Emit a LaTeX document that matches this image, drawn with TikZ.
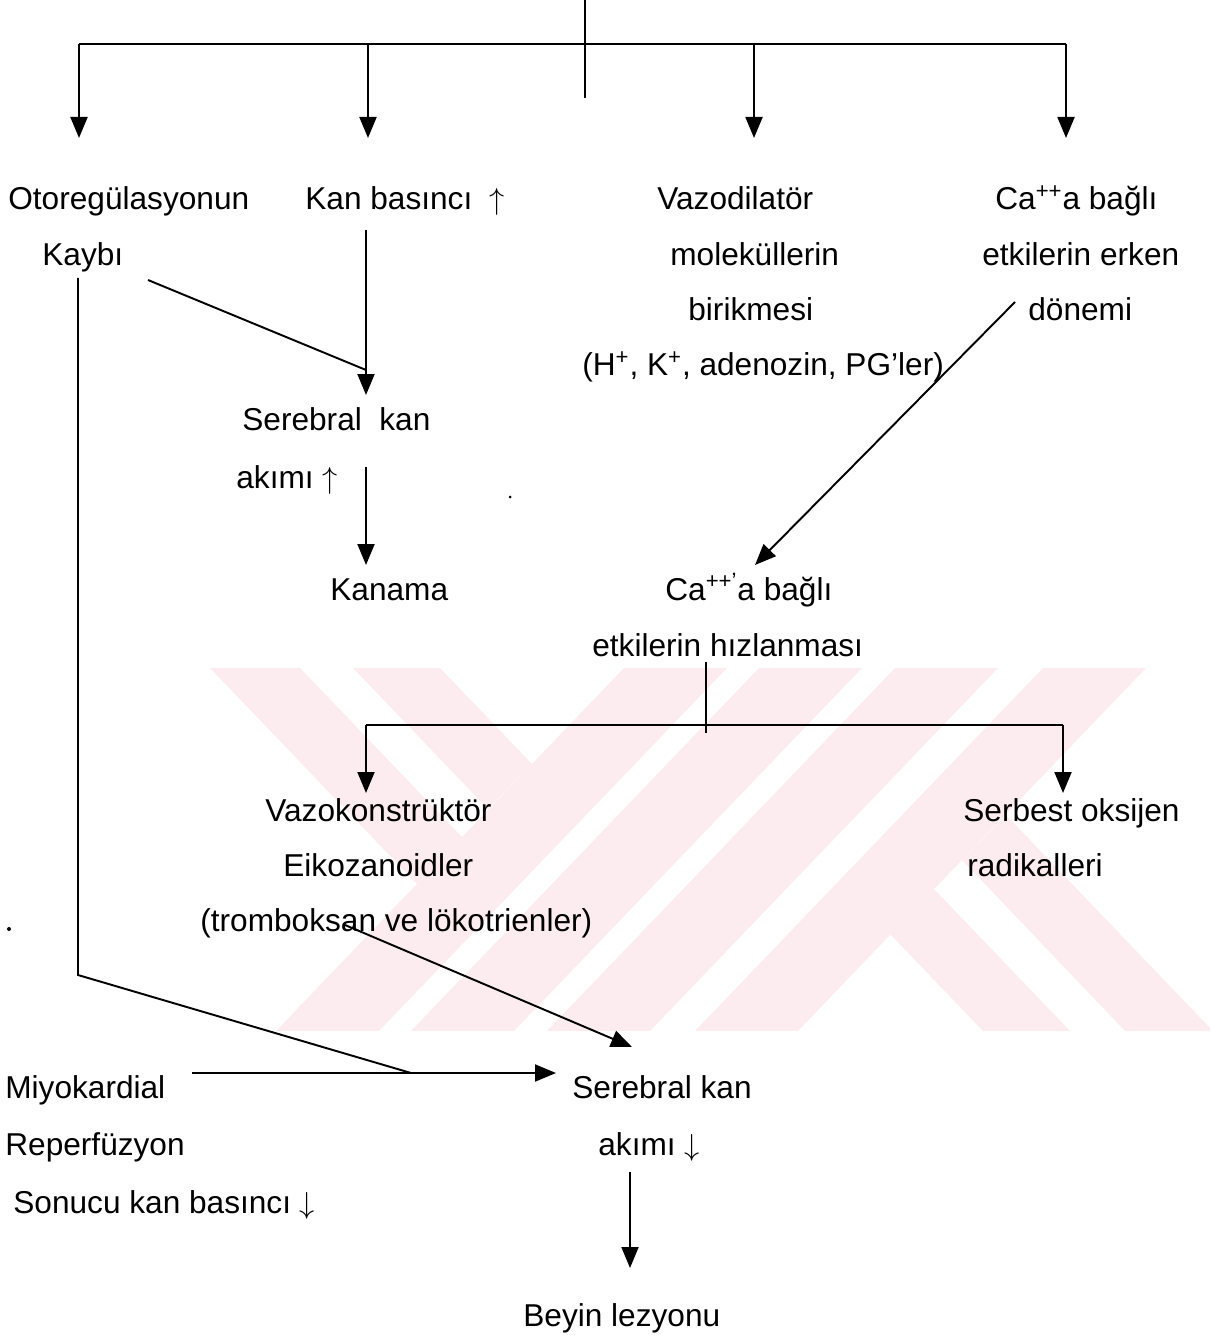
\documentclass[tikz,border=0pt]{standalone}
\usepackage{fontspec}
\setmainfont{Liberation Sans}
\usetikzlibrary{arrows.meta}
\definecolor{wmpink}{RGB}{253,236,239}

\begin{document}
\begin{tikzpicture}[x=0.02cm, y=-0.02cm]
\tikzset{ >={Triangle[length=0.42cm,width=0.34cm]}, ln/.style={line width=1.1pt}, txt/.style={inner sep=0pt, anchor=base west, font=\fontsize{18}{21}\selectfont} }

\useasboundingbox (0,0) rectangle (1210,1337);
%\draw [lightgray, dashed](0,0) grid[step=100] (1210,1337);

% watermark
\fill [wmpink] (210,668) -- (300,668) -- (462,837) -- (417,884) -- cycle;
\fill [wmpink] (353,668) -- (440,668) -- (532,764) -- (488,809) -- cycle;
\fill [wmpink] (624,668) -- (727,668) -- (379,1031) -- (276,1031) -- cycle;
\fill [wmpink] (759,668) -- (862,668) -- (514,1031) -- (411,1031) -- cycle;
\fill [wmpink] (895,668) -- (998,668) -- (650,1031) -- (547,1031) -- cycle;
\fill [wmpink] (1043,668) -- (1146,668) -- (798,1031) -- (695,1031) -- cycle;
\fill [wmpink] (890,934) -- (934,889) -- (1070,1031) -- (983,1031) -- cycle;
\fill [wmpink] (962,860) -- (1006,815) -- (1210,1028) -- (1210,1031) -- (1125,1031) -- cycle;

\node [txt] (oto)   at (8,210)    {Otoregülasyonun};
\node [txt] (kayb)  at (42,266)   {Kaybı};
\node [txt] (kanb)  at (305,210)  {Kan basıncı \ $\uparrow$};
\node [txt] (vaz1)  at (657,210)  {Vazodilatör};
\node [txt] (vaz2)  at (670,266)  {moleküllerin};
\node [txt] (vaz3)  at (688,321)  {birikmesi};
\node [txt] (vaz4)  at (582,376)  {(H\textsuperscript{+}, K\textsuperscript{+}, adenozin, PG’ler)};
\node [txt] (caa1)  at (995,210)  {Ca\textsuperscript{++}a bağlı};
\node [txt] (caa2)  at (982,266)  {etkilerin erken};
\node [txt] (caa3)  at (1028,321) {dönemi};
\node [txt] (sku1)  at (242,431)  {Serebral\ \ kan};
\node [txt] (sku2)  at (236,488)  {akımı $\uparrow$};
\node [txt] (kanm)  at (330,600)  {Kanama};
\node [txt] (cah1)  at (665,600)  {Ca\textsuperscript{++’}a bağlı};
\node [txt] (cah2)  at (592,656)  {etkilerin hızlanması};
\node [txt] (vko1)  at (265,821)  {Vazokonstrüktör};
\node [txt] (vko2)  at (283,876)  {Eikozanoidler};
\node [txt] (vko3)  at (200,931)  {(tromboksan ve lökotrienler)};
\node [txt] (sor1)  at (963,821)  {Serbest oksijen};
\node [txt] (sor2)  at (967,876)  {radikalleri};
\node [txt] (miy1)  at (5,1098)   {Miyokardial};
\node [txt] (miy2)  at (5,1155)   {Reperfüzyon};
\node [txt] (miy3)  at (13,1213)  {Sonucu kan basıncı $\downarrow$};
\node [txt] (skd1)  at (572,1098) {Serebral kan};
\node [txt] (skd2)  at (598,1155) {akımı $\downarrow$};
\node [txt] (beyn)  at (523,1326) {Beyin lezyonu};

% top branching
\coordinate (src)  at (585,0);
\coordinate (srce) at (585,98);
\coordinate (busL) at (79,44);
\coordinate (busR) at (1066,44);
\coordinate (a1) at (79,138);
\coordinate (a2) at (368,138);
\coordinate (a3) at (754,138);
\coordinate (a4) at (1066,138);

\draw [ln] (src) -- (srce);
\draw [ln] (busL) -- (busR);
\draw [->, ln] (busL) -- (a1);
\draw [->, ln] (a2 |- busL) -- (a2);
\draw [->, ln] (a3 |- busL) -- (a3);
\draw [->, ln] (busR) -- (a4);

% left column
\coordinate (kb0) at (366,230);
\coordinate (kb1) at (366,395);
\coordinate (ky0) at (148,280);
\coordinate (ky1) at (366,370);
\coordinate (kv0) at (78,278);
\coordinate (kv1) at (78,975);
\coordinate (kv2) at (411,1073);
\coordinate (sk0) at (366,467);
\coordinate (sk1) at (366,565);

\draw [->, ln] (kb0) -- (kb1);
\draw [ln] (ky0) -- (ky1);
\draw [->, ln] (sk0) -- (sk1);
\draw [ln] (kv0) -- (kv1) -- (kv2);

% calcium
\coordinate (cd0) at (1015,302);
\coordinate (cd1) at (755,565);
\coordinate (ch0) at (706,662);
\coordinate (ch1) at (706,733);
\coordinate (hbL) at (366,725);
\coordinate (hbR) at (1063,725);
\coordinate (h1) at (366,793);
\coordinate (h2) at (1063,793);

\draw [->, ln] (cd0) -- (cd1);
\draw [ln] (ch0) -- (ch1);
\draw [ln] (hbL) -- (hbR);
\draw [->, ln] (hbL) -- (h1);
\draw [->, ln] (hbR) -- (h2);

% bottom
\coordinate (tb0) at (345,925);
\coordinate (tb1) at (632,1047);
\coordinate (my0) at (192,1073);
\coordinate (my1) at (556,1073);
\coordinate (bl0) at (630,1172);
\coordinate (bl1) at (630,1268);

\draw [->, ln] (tb0) -- (tb1);
\draw [->, ln] (my0) -- (my1);
\draw [->, ln] (bl0) -- (bl1);

\fill (9,929) circle (2);
\fill (510,497) circle (1.5);
\end{tikzpicture}
\end{document}
